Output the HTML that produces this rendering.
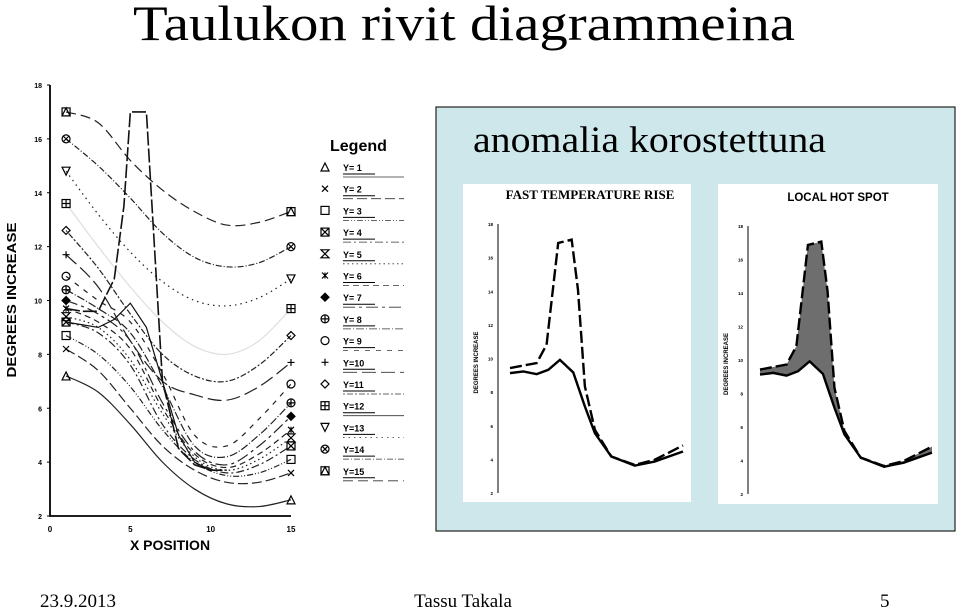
<!DOCTYPE html>
<html><head><meta charset="utf-8"><style>
html,body{margin:0;padding:0;background:#fff;}
svg{display:block;}
</style></head><body>
<svg id="s" width="960" height="609" viewBox="0 0 960 609" xmlns="http://www.w3.org/2000/svg">
<text x="133" y="40" font-family="Liberation Serif, serif" font-size="50" textLength="662" lengthAdjust="spacingAndGlyphs">Taulukon rivit diagrammeina</text>
<g id="left"></g>
<g id="legend"></g>
<rect x="436" y="107" width="519" height="424" fill="#cde7ea" stroke="#222" stroke-width="1.2"/>
<text x="473" y="152" font-family="Liberation Serif, serif" font-size="37" textLength="353" lengthAdjust="spacingAndGlyphs">anomalia korostettuna</text>
<rect x="463" y="184" width="228" height="318" fill="#fff"/>
<rect x="718" y="184" width="220" height="320" fill="#fff"/>
<text x="590" y="199" text-anchor="middle" font-family="Liberation Serif, serif" font-weight="bold" font-size="13">FAST TEMPERATURE RISE</text>
<text x="838" y="201" text-anchor="middle" font-family="Liberation Sans, sans-serif" font-weight="bold" font-size="11.5">LOCAL HOT SPOT</text>
<g id="mini1"></g>
<g id="mini2"></g>
<text x="40" y="607" font-family="Liberation Serif, serif" font-size="19">23.9.2013</text>
<text x="463" y="607" text-anchor="middle" font-family="Liberation Serif, serif" font-size="19">Tassu Takala</text>
<text x="880" y="607" font-family="Liberation Serif, serif" font-size="19">5</text>
</svg>
<script>
// ---- main chart data ----
var xPositions=[1,3,5,7,9,11,13,15];
var seriesNames=["Y= 1","Y= 2","Y= 3","Y= 4","Y= 5","Y= 6","Y= 7","Y= 8","Y= 9","Y=10","Y=11","Y=12","Y=13","Y=14","Y=15"];
var y1=[7.2,6.6,5.4,4.0,3.0,2.45,2.35,2.6];
var y2=[8.2,7.4,6.0,4.6,3.7,3.25,3.25,3.6];
var y3=[8.7,8.0,6.8,5.2,4.0,3.5,3.6,4.1];
var y4=[9.2,8.8,7.6,5.4,4.1,3.6,3.9,4.6];
var y5=[9.4,9.0,7.8,5.8,4.2,3.7,4.1,4.9];
var y6=[9.7,9.2,8.2,6.0,4.3,3.8,4.3,5.2];
var y7=[10.0,9.5,8.5,6.2,4.4,3.9,4.6,5.7];
var y8=[10.4,9.7,8.8,6.8,4.6,4.2,5.0,6.2];
var y9=[10.9,10.0,9.2,7.3,5.0,4.6,5.6,6.9];
var y10=[11.7,10.5,8.5,7.0,6.5,6.3,6.8,7.7];
var y11=[12.6,11.2,9.5,8.0,7.2,7.0,7.6,8.7];
var y12=[13.6,12.0,10.5,9.2,8.3,8.0,8.5,9.7];
var y13=[14.8,13.2,11.8,10.7,10.0,9.8,10.1,10.8];
var y14=[16.0,15.0,13.8,12.5,11.6,11.25,11.4,12.0];
var y15=[17.0,16.6,15.2,14.1,13.3,12.8,12.9,13.3];
var spikeX=[1,2,3,4,4.6,5,6,6.5,7,8,9,10,11];
var spikeY=[9.7,9.6,9.6,10.8,13.5,17,17,12,7,4.5,3.9,3.7,3.7];
var bumpX=[1,2,3,4,5,6,7,8,9,10];
var bumpY=[9.2,9.1,9.0,9.3,9.9,9.0,7.0,5.0,4.0,3.7];
var yTicks=[2,4,6,8,10,12,14,16,18];
var xTicks=[0,5,10,15];
// ---- mini chart data ----
var miniDashX=[1,3.16,3.96,4.9,5.99,6.5,7.06,7.87,9.2,11.1,12.7,15];
var miniDashY=[9.43,9.73,10.82,16.87,17.07,14.1,8.34,5.76,4.17,3.67,3.97,4.83];
var miniSolidX=[1,2.08,3.16,4.1,5.04,6.12,7.06,7.87,9.2,11.1,12.7,15];
var miniSolidY=[9.13,9.23,9.07,9.33,9.92,9.17,7.15,5.56,4.17,3.63,3.87,4.47];

var NS="http://www.w3.org/2000/svg";
function mk(parent,tag,attrs){var e=document.createElementNS(NS,tag);for(var k in attrs)e.setAttribute(k,attrs[k]);parent.appendChild(e);return e;}
function smooth(pts){var d="M"+pts[0][0]+","+pts[0][1];for(var i=0;i<pts.length-1;i++){var p0=pts[i-1]||pts[i],p1=pts[i],p2=pts[i+1],p3=pts[i+2]||p2;d+=" C"+(p1[0]+(p2[0]-p0[0])/6)+","+(p1[1]+(p2[1]-p0[1])/6)+" "+(p2[0]-(p3[0]-p1[0])/6)+","+(p2[1]-(p3[1]-p1[1])/6)+" "+p2[0]+","+p2[1];}return d;}
function lin(pts){return "M"+pts.map(function(p){return p[0]+","+p[1];}).join(" L");}

var L=document.getElementById('left');
function sx(v){return 50+v*(241/15);}
function sy(v){return 516-(v-2)*(431/16);}
var ax=mk(L,'path',{d:"M50,85 L50,516 L291,516",fill:"none",stroke:"#000","stroke-width":"1.8"});


yTicks.forEach(function(t){
  var tx=mk(L,'text',{x:42,y:sy(t)+3,"text-anchor":"end","font-family":"Liberation Sans, sans-serif","font-weight":"bold","font-size":"7"});
  tx.textContent=t;
  
  
  mk(L,'line',{x1:47,x2:50,y1:sy(t),y2:sy(t),stroke:"#000"});
});
xTicks.forEach(function(t){
  var tx=mk(L,'text',{x:sx(t),y:532,"text-anchor":"middle","font-family":"Liberation Sans, sans-serif","font-weight":"bold","font-size":"8"});
  tx.textContent=t;
  
  
});
var xt=mk(L,'text',{x:170,y:550,"text-anchor":"middle","font-family":"Liberation Sans, sans-serif","font-weight":"bold","font-size":"14"});
xt.textContent="X POSITION";


var yt=mk(L,'text',{x:0,y:0,transform:"translate(16,300) rotate(-90)","text-anchor":"middle","font-family":"Liberation Sans, sans-serif","font-weight":"bold","font-size":"13",textLength:"155",lengthAdjust:"spacingAndGlyphs"});
yt.textContent="DEGREES INCREASE";



var all=[y1,y2,y3,y4,y5,y6,y7,y8,y9,y10,y11,y12,y13,y14,y15];
var dashes=["none","10,4","6,2,1,2,1,2","8,3,2,3","1.5,3","6,4","12,4,3,4","8,2,1,2","5,6","14,5","2,2,6,2","none","1.5,4","6,2,1,2","10,5"];
var markers=["tri","x","sq","sqx","hour","star","dia","cplus","circ","plus","odia","sqplus","itri","cx","sqtri"];
function marker(g,type,x,y){
  var st={fill:"none",stroke:"#000","stroke-width":"1.2"};
  function a(t,o){var e=mk(g,t,Object.assign({},st,o));return e;}
  var r=4;
  if(type=="tri")a('path',{d:"M"+x+","+(y-r)+" L"+(x+r)+","+(y+r)+" L"+(x-r)+","+(y+r)+"Z"});
  if(type=="itri")a('path',{d:"M"+x+","+(y+r)+" L"+(x+r)+","+(y-r)+" L"+(x-r)+","+(y-r)+"Z"});
  if(type=="x"||type=="star"){a('path',{d:"M"+(x-3)+","+(y-3)+" L"+(x+3)+","+(y+3)+" M"+(x+3)+","+(y-3)+" L"+(x-3)+","+(y+3)+(type=="star"?" M"+x+","+(y-3)+" L"+x+","+(y+3):"")});}
  if(type=="plus")a('path',{d:"M"+(x-3.5)+","+y+" L"+(x+3.5)+","+y+" M"+x+","+(y-3.5)+" L"+x+","+(y+3.5)});
  if(type.indexOf("sq")==0){a('rect',{x:x-r,y:y-r,width:2*r,height:2*r});
    if(type=="sqx")a('path',{d:"M"+(x-r)+","+(y-r)+" L"+(x+r)+","+(y+r)+" M"+(x+r)+","+(y-r)+" L"+(x-r)+","+(y+r)});
    if(type=="sqplus")a('path',{d:"M"+(x-r)+","+y+" L"+(x+r)+","+y+" M"+x+","+(y-r)+" L"+x+","+(y+r)});
    if(type=="sqtri")a('path',{d:"M"+x+","+(y-r)+" L"+(x+r)+","+(y+r)+" L"+(x-r)+","+(y+r)+"Z"});}
  if(type=="hour")a('path',{d:"M"+(x-r)+","+(y-r)+" L"+(x+r)+","+(y-r)+" L"+(x-r)+","+(y+r)+" L"+(x+r)+","+(y+r)+"Z"});
  if(type=="dia")a('path',{d:"M"+x+","+(y-r)+" L"+(x+r)+","+y+" L"+x+","+(y+r)+" L"+(x-r)+","+y+"Z",fill:"#000"});
  if(type=="odia")a('path',{d:"M"+x+","+(y-r)+" L"+(x+r)+","+y+" L"+x+","+(y+r)+" L"+(x-r)+","+y+"Z"});
  if(type.charAt(0)=="c"){a('circle',{cx:x,cy:y,r:r});
    if(type=="cplus")a('path',{d:"M"+(x-r)+","+y+" L"+(x+r)+","+y+" M"+x+","+(y-r)+" L"+x+","+(y+r)});
    if(type=="cx")a('path',{d:"M"+(x-3)+","+(y-3)+" L"+(x+3)+","+(y+3)+" M"+(x+3)+","+(y-3)+" L"+(x-3)+","+(y+3)});}
}
all.forEach(function(s,i){
  var pts=s.map(function(v,j){return [sx(xPositions[j]),sy(v)];});
  var p=mk(L,'path',{d:smooth(pts),fill:"none",stroke:"#222","stroke-width":"1.2","stroke-dasharray":dashes[i],"stroke-opacity":(i==11?"0.15":"1")});
  
  
  var g1=mk(L,'g',{});
  
  
  marker(g1,markers[i],pts[0][0],pts[0][1]);
  var g2=mk(L,'g',{});
  
  
  marker(g2,markers[i],pts[pts.length-1][0],pts[pts.length-1][1]);
});
var sp=mk(L,'path',{d:lin(spikeX.map(function(x,j){return [sx(x),sy(spikeY[j])];})),fill:"none",stroke:"#111","stroke-width":"1.6","stroke-dasharray":"14,3"});


var bp=mk(L,'path',{d:lin(bumpX.map(function(x,j){return [sx(x),sy(bumpY[j])];})),fill:"none",stroke:"#111","stroke-width":"1.2"});



var G=document.getElementById('legend');
var lt=mk(G,'text',{x:330,y:151,"font-family":"Liberation Sans, sans-serif","font-weight":"bold","font-size":"16"});
lt.textContent="Legend";


seriesNames.forEach(function(n,i){
  var y=167+i*21.7;
  var g=mk(G,'g',{});
  
  
  marker(g,markers[i],325,y);
  var t=mk(g,'text',{x:343,y:y+4,"font-family":"Liberation Sans, sans-serif","font-weight":"bold","font-size":"9"});
  t.textContent=n;
  mk(g,'line',{x1:343,x2:375,y1:y+7,y2:y+7,stroke:"#000","stroke-width":"1"});
  mk(g,'line',{x1:343,x2:404,y1:y+10,y2:y+10,stroke:"#333","stroke-width":"0.8","stroke-dasharray":dashes[i]=="none"?"none":dashes[i]});
});

function mini(id,x0,x1,top,bot,fill){
  var M=document.getElementById(id);
  function mx(v){return x0+(v-1)*(x1-x0)/14;}
  function my(v){return bot-(v-2)*(bot-top)/16;}
  var axx=x0-12;
  var a=mk(M,'line',{x1:axx,x2:axx,y1:top,y2:bot,stroke:"#000","stroke-width":"1"});
  
  
  yTicks.forEach(function(t){
    var tx=mk(M,'text',{x:axx-5,y:my(t)+2,"text-anchor":"end","font-family":"Liberation Sans, sans-serif","font-weight":"bold","font-size":"4.5"});
    tx.textContent=t;
    
    
  });
  var yl=mk(M,'text',{x:0,y:0,transform:"translate("+(axx-20)+","+((top+bot)/2+4)+") rotate(-90)","text-anchor":"middle","font-family":"Liberation Sans, sans-serif","font-weight":"bold","font-size":"6"});
  yl.textContent="DEGREES INCREASE";
  
  
  var dp=miniDashX.map(function(x,j){return [mx(x),my(miniDashY[j])];});
  var spt=miniSolidX.map(function(x,j){return [mx(x),my(miniSolidY[j])];});
  if(fill){
    var f=mk(M,'path',{d:lin(dp)+" L"+spt.slice().reverse().map(function(p){return p[0]+","+p[1];}).join(" L")+"Z",fill:"#555","fill-opacity":"0.85"});
    
    
  }
  var d=mk(M,'path',{d:lin(dp),fill:"none",stroke:"#000","stroke-width":"2.4","stroke-dasharray":"12,4"});
  
  
  var s=mk(M,'path',{d:lin(spt),fill:"none",stroke:"#000","stroke-width":"2.4"});
  
  
}
mini('mini1',510,683,224,493,false);
mini('mini2',760,932,226,494,true);
</script>
</body></html>
